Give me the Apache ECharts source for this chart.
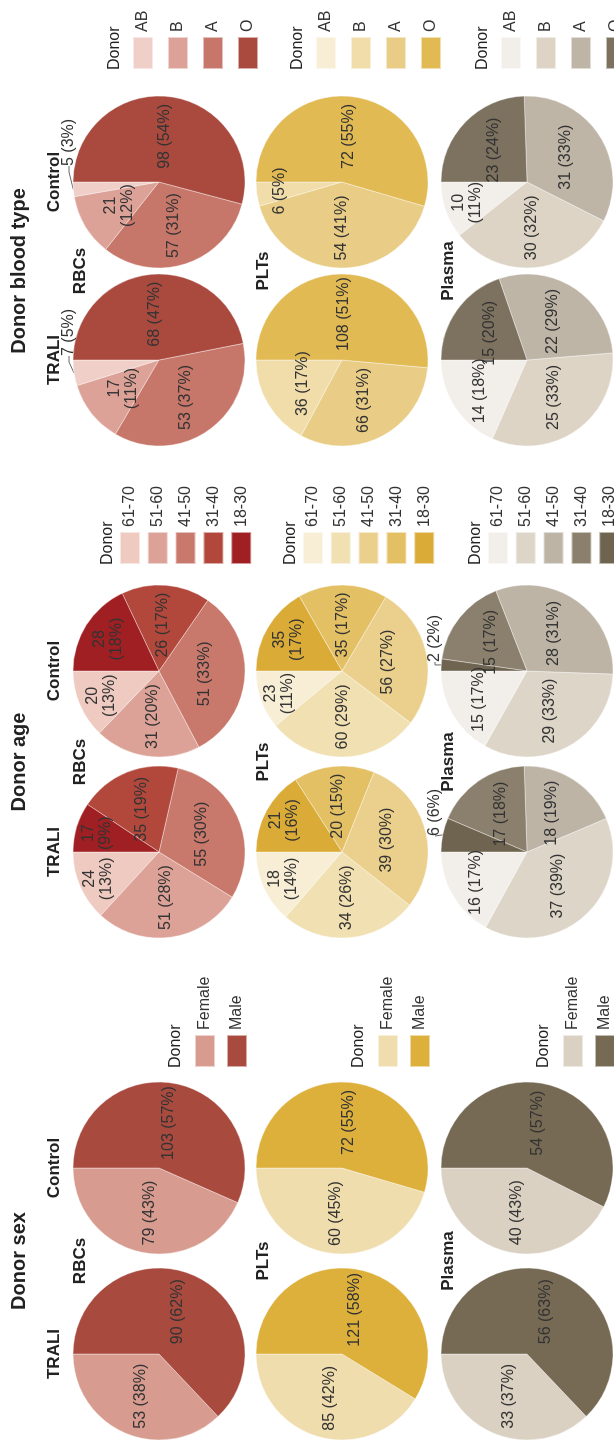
<!DOCTYPE html>
<html>
<head>
<meta charset="utf-8">
<title>Donor characteristics – TRALI vs control</title>
<script src="https://cdn.jsdelivr.net/npm/echarts@6.0.0/dist/echarts.min.js"></script>
<style>
  html, body { margin: 0; padding: 0; background: #fff; width: 614px; height: 1446px; overflow: hidden; }
  /* The figure is laid out landscape and turned a quarter turn counter-clockwise onto the page.
     The frame is a little deeper than the page so the last legend column is not wrapped. */
  #stage {
    position: absolute; left: 0; top: 0;
    width: 1446px; height: 680px;
    transform-origin: 0 0;
    transform: translate(0, 1446px) rotate(-90deg);
  }
</style>
</head>
<body>
<div id="stage"></div>
<script>
// ---------- categories ----------
const sexCategories   = ['Female', 'Male'];
const ageCategories   = ['61-70', '51-60', '41-50', '31-40', '18-30'];
const bloodCategories = ['AB', 'B', 'A', 'O'];

// ---------- donor sex: counts and printed percentages ----------
const sexRBCsTRALI        = [53, 90];
const sexRBCsTRALIPct     = [38, 62];
const sexRBCsControl      = [79, 103];
const sexRBCsControlPct   = [43, 57];
const sexPLTsTRALI        = [85, 121];
const sexPLTsTRALIPct     = [42, 58];
const sexPLTsControl      = [60, 72];
const sexPLTsControlPct   = [45, 55];
const sexPlasmaTRALI      = [33, 56];
const sexPlasmaTRALIPct   = [37, 63];
const sexPlasmaControl    = [40, 54];
const sexPlasmaControlPct = [43, 57];

// ---------- donor age ----------
const ageRBCsTRALI        = [24, 51, 55, 35, 17];
const ageRBCsTRALIPct     = [13, 28, 30, 19, 9];
const ageRBCsControl      = [20, 31, 51, 26, 28];
const ageRBCsControlPct   = [13, 20, 33, 17, 18];
const agePLTsTRALI        = [18, 34, 39, 20, 21];
const agePLTsTRALIPct     = [14, 26, 30, 15, 16];
const agePLTsControl      = [23, 60, 56, 35, 35];
const agePLTsControlPct   = [11, 29, 27, 17, 17];
const agePlasmaTRALI      = [16, 37, 18, 17, 6];
const agePlasmaTRALIPct   = [17, 39, 19, 18, 6];
const agePlasmaControl    = [15, 29, 28, 15, 2];
const agePlasmaControlPct = [17, 33, 31, 17, 2];

// ---------- donor blood type ----------
const bloodRBCsTRALI        = [7, 17, 53, 68];
const bloodRBCsTRALIPct     = [5, 11, 37, 47];
const bloodRBCsControl      = [5, 21, 57, 98];
const bloodRBCsControlPct   = [3, 12, 31, 54];
const bloodPLTsTRALI        = [0, 36, 66, 108];
const bloodPLTsTRALIPct     = [0, 17, 31, 51];
const bloodPLTsControl      = [0, 6, 54, 72];
const bloodPLTsControlPct   = [0, 5, 41, 55];
const bloodPlasmaTRALI      = [14, 25, 22, 15];
const bloodPlasmaTRALIPct   = [18, 33, 29, 20];
const bloodPlasmaControl    = [10, 30, 31, 23];
const bloodPlasmaControlPct = [11, 32, 33, 24];

// ---------- labels ----------
const groupTitles  = { sex: 'Donor sex', age: 'Donor age', blood: 'Donor blood type' };
const rowNames     = ['RBCs', 'PLTs', 'Plasma'];
const columnNames  = ['TRALI', 'Control'];
const legendHeader = 'Donor';

// ---------- lookup tables built from the arrays above ----------
const groups = ['sex', 'age', 'blood'];
const categories = { sex: sexCategories, age: ageCategories, blood: bloodCategories };
const counts = {
  sex:   { RBCs: { TRALI: sexRBCsTRALI,   Control: sexRBCsControl },
           PLTs: { TRALI: sexPLTsTRALI,   Control: sexPLTsControl },
           Plasma: { TRALI: sexPlasmaTRALI, Control: sexPlasmaControl } },
  age:   { RBCs: { TRALI: ageRBCsTRALI,   Control: ageRBCsControl },
           PLTs: { TRALI: agePLTsTRALI,   Control: agePLTsControl },
           Plasma: { TRALI: agePlasmaTRALI, Control: agePlasmaControl } },
  blood: { RBCs: { TRALI: bloodRBCsTRALI, Control: bloodRBCsControl },
           PLTs: { TRALI: bloodPLTsTRALI, Control: bloodPLTsControl },
           Plasma: { TRALI: bloodPlasmaTRALI, Control: bloodPlasmaControl } }
};
const percents = {
  sex:   { RBCs: { TRALI: sexRBCsTRALIPct,   Control: sexRBCsControlPct },
           PLTs: { TRALI: sexPLTsTRALIPct,   Control: sexPLTsControlPct },
           Plasma: { TRALI: sexPlasmaTRALIPct, Control: sexPlasmaControlPct } },
  age:   { RBCs: { TRALI: ageRBCsTRALIPct,   Control: ageRBCsControlPct },
           PLTs: { TRALI: agePLTsTRALIPct,   Control: agePLTsControlPct },
           Plasma: { TRALI: agePlasmaTRALIPct, Control: agePlasmaControlPct } },
  blood: { RBCs: { TRALI: bloodRBCsTRALIPct, Control: bloodRBCsControlPct },
           PLTs: { TRALI: bloodPLTsTRALIPct, Control: bloodPLTsControlPct },
           Plasma: { TRALI: bloodPlasmaTRALIPct, Control: bloodPlasmaControlPct } }
};

// ---------- palette: one ramp per product, light to dark ----------
const palette = {
  RBCs: {
    sex:   ['#d89b90', '#a94a3f'],
    age:   ['#eecac1', '#dca298', '#c9796c', '#b2483c', '#a01f22'],
    blood: ['#efcfc7', '#dca298', '#c7776a', '#aa4a3f']
  },
  PLTs: {
    sex:   ['#f0ddad', '#ddb03c'],
    age:   ['#f7eed5', '#f1e0b1', '#ead08c', '#e3c064', '#daac37'],
    blood: ['#f7eed5', '#f0dda9', '#e9cc85', '#e1ba53']
  },
  Plasma: {
    sex:   ['#dad1c2', '#776a55'],
    age:   ['#f2efea', '#ddd5c8', '#bdb4a6', '#8b806d', '#6f6450'],
    blood: ['#f2efea', '#ddd4c6', '#beb5a7', '#7d715f']
  }
};

// ---------- layout (landscape frame) ----------
const FONT = "'Liberation Sans', Arial, sans-serif";
const RADIUS = 86;
const rowY = { RBCs: 159, PLTs: 342, Plasma: 527 };
const pieX = { sex: [92, 278], age: [594, 775], blood: [1086, 1264] };
const groupCenterX = { sex: 185, age: 684, blood: 1175 };
const legendLeft = { sex: 378, age: 881, blood: 1376 };
// offsets from the row centre: "Donor" header, first legend swatch, swatch pitch
const legendMetrics = {
  sex:   { header: 17,  first: 45,  pitch: 30 },
  age:   { header: -51, first: -30, pitch: 25.8 },
  blood: { header: -44, first: -17, pitch: 33 }
};
const SWATCH_H = 20;

// slices whose label is set on two lines
const twoLineLabels = {
  'age|RBCs|TRALI': [0, 4], 'age|RBCs|Control': [0, 4],
  'age|PLTs|TRALI': [0, 4], 'age|PLTs|Control': [0, 4],
  'blood|RBCs|TRALI': [1], 'blood|RBCs|Control': [1],
  'blood|Plasma|Control': [0]
};
// inside labels set further out than mid-radius (fraction of the radius)
const labelRadius = {
  'age|RBCs|TRALI':   { 0: 0.74, 4: 0.72 },
  'age|RBCs|Control': { 0: 0.70, 4: 0.66 },
  'age|PLTs|TRALI':   { 0: 0.72, 4: 0.73 },
  'age|PLTs|Control': { 0: 0.74, 4: 0.69 },
  'age|Plasma|TRALI': { 0: 0.66 },
  'age|Plasma|Control': { 0: 0.62 },
  'blood|PLTs|Control': { 1: 0.70 },
  'blood|Plasma|TRALI': { 0: 0.62 },
  'blood|Plasma|Control': { 0: 0.70 }
};
// slices labelled outside the pie, with a leader: [dx, dy] of the label from the pie centre
const outsideLabels = {
  'blood|RBCs|TRALI':   { 0: [4, -90] },
  'blood|RBCs|Control': { 0: [16, -90] },
  'age|Plasma|TRALI':   { 4: [16, -92] },
  'age|Plasma|Control': { 4: [9, -92] }
};

const series = [];
const legends = [];
const texts = [];

function addText(text, x, y, font, align) {
  texts.push({
    type: 'text', x: x, y: y, silent: true,
    style: {
      text: text, font: font, fill: '#222',
      align: align, verticalAlign: 'middle',
      textAlign: align, textVerticalAlign: 'middle'
    }
  });
}

// mid-angle (degrees, y-up) of every slice for a pie drawn counter-clockwise from 12 o'clock
function midAngles(vals) {
  const total = vals.reduce(function (a, b) { return a + b; }, 0);
  let cum = 0;
  return vals.map(function (v) {
    const a = 90 + 360 * (cum + v / 2) / total;
    cum += v;
    return a;
  });
}

groups.forEach(function (g) {
  addText(groupTitles[g], groupCenterX[g], 19, 'bold 20px ' + FONT, 'center');
  columnNames.forEach(function (c, ci) {
    addText(c, pieX[g][ci], 54, 'bold 17px ' + FONT, 'center');
  });

  rowNames.forEach(function (r) {
    const cy = rowY[r];
    const cats = categories[g];
    const cols = palette[r][g];
    const names = cats.map(function (cat) { return g + '|' + r + '|' + cat; });

    addText(r, groupCenterX[g], cy - 79, 'bold 17px ' + FONT, 'center');

    columnNames.forEach(function (c, ci) {
      const key = g + '|' + r + '|' + c;
      const cx = pieX[g][ci];
      const vals = counts[g][r][c];
      const pcts = percents[g][r][c];
      const wrap = twoLineLabels[key] || [];
      const outs = outsideLabels[key] || {};
      const radial = labelRadius[key] || {};
      const mids = midAngles(vals);

      const data = vals.map(function (v, i) {
        const sep = wrap.indexOf(i) >= 0 ? '\n' : ' ';
        const item = {
          name: names[i],
          value: v,
          itemStyle: { color: cols[i] },
          label: { formatter: v + sep + '(' + pcts[i] + '%)' }
        };
        if (v === 0) item.label.show = false;
        if (outs[i]) {
          item.label.position = 'outside';
          item.labelLine = { show: true, length: 6, length2: 6,
                             lineStyle: { color: '#666', width: 1 } };
        }
        return item;
      });

      series.push({
        type: 'pie',
        center: [cx, cy],
        radius: RADIUS,
        startAngle: 90,
        clockwise: false,
        animation: false,
        silent: true,
        avoidLabelOverlap: false,
        itemStyle: { borderColor: 'rgba(255,255,255,0.55)', borderWidth: 0.7 },
        label: {
          show: true, position: 'inside', color: '#333',
          fontFamily: FONT, fontSize: 16, lineHeight: 17
        },
        labelLine: { show: false },
        labelLayout: function (p) {
          const i = p.dataIndex;
          const o = outs[i];
          if (o) {
            return { x: cx + o[0], y: cy + o[1], align: 'left', verticalAlign: 'middle' };
          }
          if (radial[i] != null) {
            const shift = (radial[i] - 0.5) * RADIUS;
            const a = mids[i] * Math.PI / 180;
            return { dx: Math.cos(a) * shift, dy: -Math.sin(a) * shift };
          }
          return {};
        },
        emphasis: { disabled: true },
        data: data
      });
    });

    const m = legendMetrics[g];
    addText(legendHeader, legendLeft[g], cy + m.header, '16px ' + FONT, 'left');
    legends.push({
      data: names,
      orient: 'vertical',
      left: legendLeft[g],
      top: cy + m.first - SWATCH_H / 2,
      padding: 0,
      icon: 'rect',
      itemWidth: 32,
      itemHeight: SWATCH_H,
      itemGap: m.pitch - SWATCH_H,
      selectedMode: false,
      formatter: function (n) { return n.split('|')[2]; },
      textStyle: { fontFamily: FONT, fontSize: 16, color: '#333' }
    });
  });
});

const chart = echarts.init(document.getElementById('stage'), null, { renderer: 'canvas' });
chart.setOption({
  backgroundColor: '#ffffff',
  animation: false,
  legend: legends,
  series: series,
  graphic: { elements: texts }
});
</script>
</body>
</html>
